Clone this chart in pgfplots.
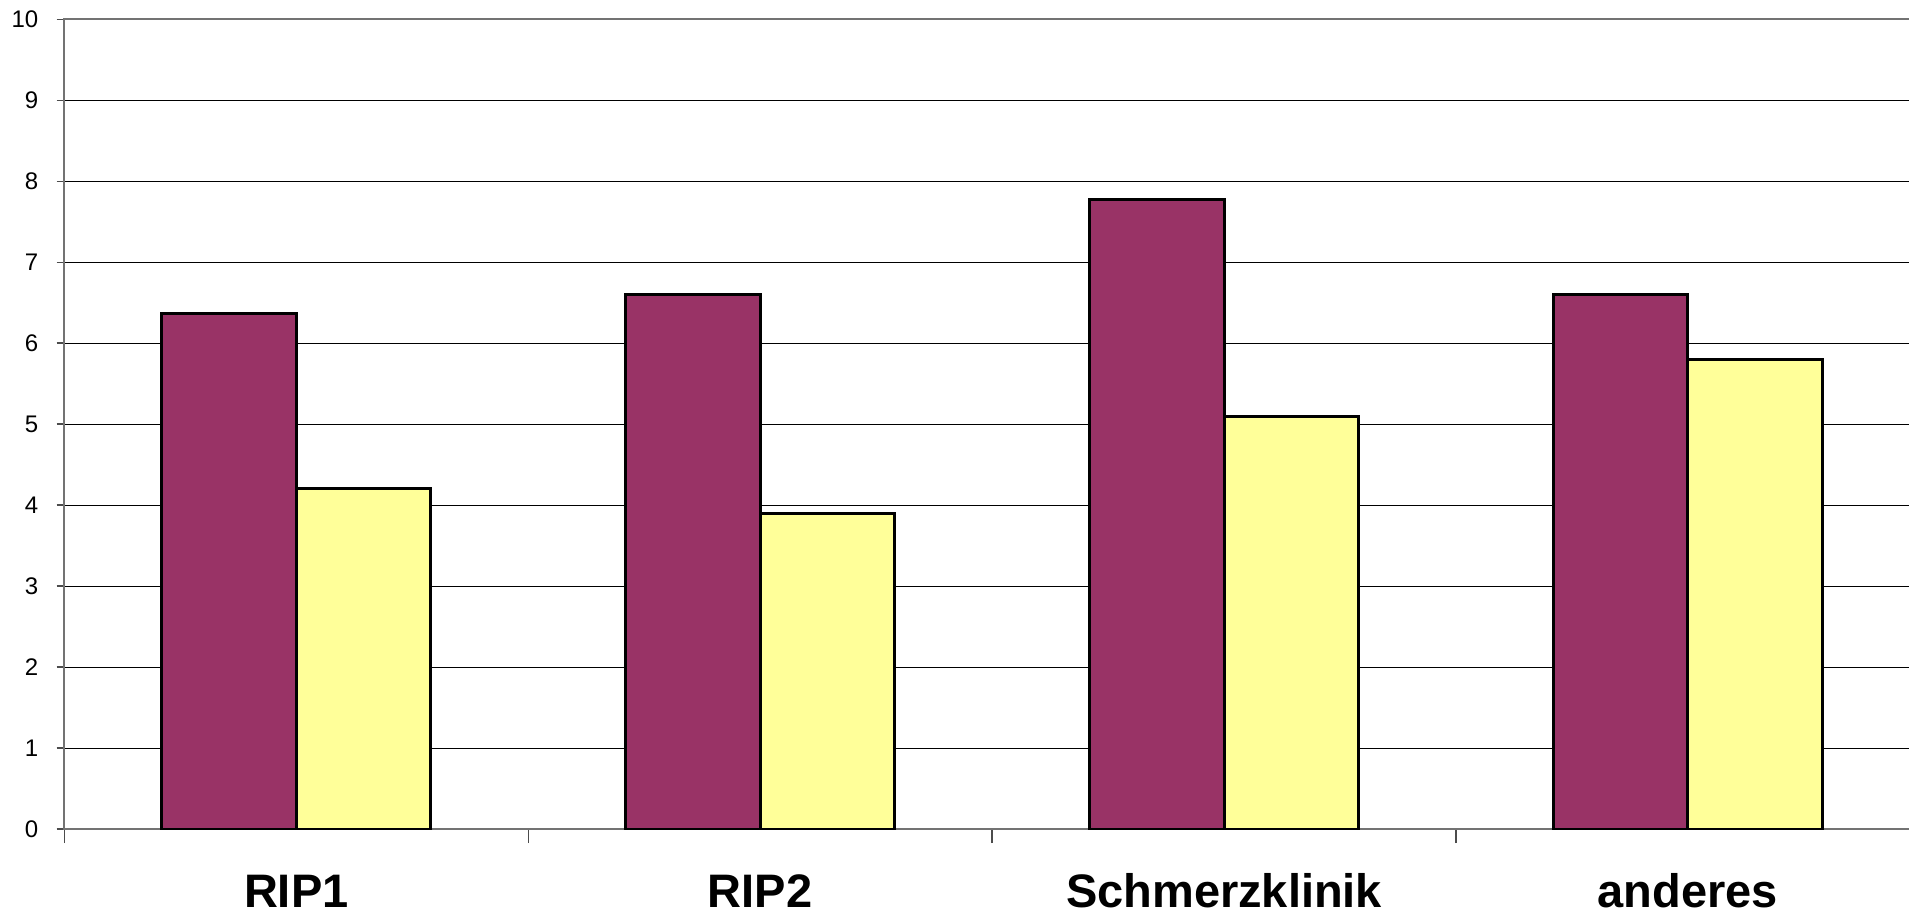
\documentclass[border=0pt]{standalone}
\usepackage{pgfplots}
\pgfplotsset{compat=1.18}
\usepackage{fontspec}
\setmainfont{Liberation Sans}
\definecolor{plum}{HTML}{993366}
\definecolor{paleyellow}{HTML}{FFFF99}
\begin{document}
\begin{tikzpicture}
\useasboundingbox (0,0) rectangle (954.5pt,458pt);
\begin{axis}[
  at={(32.15pt,43.5pt)}, anchor=south west,
  scale only axis, width=927.8pt, height=404.85pt,
  xmin=-0.5, xmax=3.5, ymin=0, ymax=10,
  ytick={0,1,...,10},
  xtick={0,1,2,3},
  xticklabels={RIP1,RIP2,Schmerzklinik,anderes},
  major x tick style={draw=none},
  minor xtick={-0.5,0.5,1.5,2.5,3.5},
  minor tick length=7pt, major tick length=3.8pt,
  tick align=outside,
  xtick pos=bottom, ytick pos=left,
  ymajorgrids, grid style={black, line width=0.5pt},
  axis line style={black!55, line width=1pt},
  tick style={black!70, line width=0.7pt},
  /pgf/number format/assume math mode=true,
  yticklabel style={font=\fontsize{12}{14}\selectfont, anchor=east, inner sep=0pt, xshift=-9pt},
  xticklabel style={font=\fontsize{23.5}{28}\selectfont\bfseries, anchor=base, inner sep=0pt, yshift=-35.6pt},
  ybar, bar width=0.29,
]
\addplot[fill=plum, draw=black, line width=1.5pt, bar shift=-0.145] coordinates {(0,6.37) (1,6.6) (2,7.78) (3,6.6)};
\addplot[fill=paleyellow, draw=black, line width=1.5pt, bar shift=0.145] coordinates {(0,4.2) (1,3.9) (2,5.1) (3,5.8)};
\end{axis}
\end{tikzpicture}
\end{document}
